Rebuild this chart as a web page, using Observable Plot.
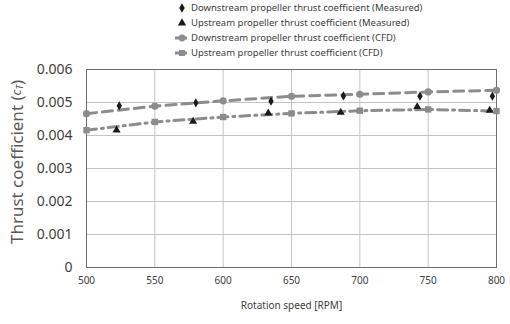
<!DOCTYPE html>
<html>
<head>
<meta charset="utf-8">
<script src="https://cdn.jsdelivr.net/npm/d3@7"></script>
<script src="https://cdn.jsdelivr.net/npm/@observablehq/plot@0.6"></script>
<style>
  body { margin: 0; background: #fff; font-family: "Noto Sans", sans-serif; }
  #wrap { position: relative; width: 510px; height: 324px; }
  #legend { position: absolute; left: 172px; top: 0; font-size: 9.5px; color: #404040; }
  #legend .row { display: flex; align-items: center; height: 15px; }
  #legend svg { width: 18px; height: 12px; margin-right: 1px; }
  #wrap > svg.chart { position: absolute; left: 0; top: 0; }
</style>
</head>
<body>
<div id="wrap"><div id="legend"></div></div>
<script>
// Measured thrust coefficients
const rpmMeasDown = [524, 580, 635, 688, 744, 797];
const ctMeasDown  = [0.00490, 0.00499, 0.00504, 0.00520, 0.00519, 0.00519];
const rpmMeasUp   = [522, 578, 633, 686, 742, 795];
const ctMeasUp    = [0.00416, 0.00443, 0.00468, 0.00470, 0.00487, 0.00476];

// CFD thrust coefficients
const rpmCFD    = [500, 550, 600, 650, 700, 750, 800];
const ctCFDDown = [0.00466, 0.00489, 0.00505, 0.00519, 0.00525, 0.00532, 0.00537];
const ctCFDUp   = [0.00416, 0.00441, 0.00456, 0.00467, 0.00475, 0.00479, 0.00474];

const xTicks = [500, 550, 600, 650, 700, 750, 800];
const yTicks = [0, 0.001, 0.002, 0.003, 0.004, 0.005, 0.006];

const seriesNames = [
  "Downstream propeller thrust coefficient (Measured)",
  "Upstream propeller thrust coefficient (Measured)",
  "Downstream propeller thrust coefficient (CFD)",
  "Upstream propeller thrust coefficient (CFD)"
];

const ink = "#1a1a1a";
const cfdGray = "#8c8c8c";
const dashDown = "10,6";
const dashUp = "10,5,2,5";

const measDown = rpmMeasDown.map((x, i) => ({x, y: ctMeasDown[i]}));
const measUp = rpmMeasUp.map((x, i) => ({x, y: ctMeasUp[i]}));
const cfdDown = rpmCFD.map((x, i) => ({x, y: ctCFDDown[i]}));
const cfdUp = rpmCFD.map((x, i) => ({x, y: ctCFDUp[i]}));

const chart = Plot.plot({
  width: 510,
  height: 324,
  marginLeft: 86,
  marginRight: 14,
  marginTop: 69,
  marginBottom: 57,
  style: { fontFamily: "'Noto Sans', sans-serif", background: "transparent" },
  x: { domain: [500, 800] },
  y: { domain: [0, 0.006] },
  marks: [
    Plot.gridX(xTicks, { stroke: "#c4c4c4", strokeOpacity: 1 }),
    Plot.gridY(yTicks, { stroke: "#c4c4c4", strokeOpacity: 1 }),
    Plot.frame({ stroke: "#6e6e6e" }),
    Plot.axisY(yTicks, {
      tickSize: 0, tickPadding: 14, fontSize: 14, color: "#404040",
      tickFormat: d => d === 0 ? "0" : d.toFixed(3), label: null
    }),
    Plot.axisX(xTicks, {
      tickSize: 0, tickPadding: 9, fontSize: 10, color: "#404040",
      label: "Rotation speed [RPM]", labelAnchor: "center", labelArrow: "none", labelOffset: 41
    }),
    Plot.line(cfdDown, { x: "x", y: "y", stroke: cfdGray, strokeWidth: 3, strokeDasharray: dashDown }),
    Plot.line(cfdUp, { x: "x", y: "y", stroke: cfdGray, strokeWidth: 3, strokeDasharray: dashUp }),
    Plot.dot(cfdDown, { x: "x", y: "y", symbol: "circle", r: 3.6, fill: cfdGray }),
    Plot.dot(cfdUp, { x: "x", y: "y", symbol: "square", r: 3.6, fill: cfdGray }),
    Plot.dot(measDown, { x: "x", y: "y", symbol: "diamond", r: 2.8, fill: ink }),
    Plot.dot(measUp, { x: "x", y: "y", symbol: "triangle", r: 3, fill: ink })
  ]
});
chart.classList.add("chart");
document.getElementById("wrap").appendChild(chart);

// Y axis title with italic subscripted coefficient symbol
const yTitle = d3.select(chart).append("text")
  .attr("transform", "translate(18,162) rotate(-90)")
  .attr("text-anchor", "middle")
  .attr("dominant-baseline", "middle")
  .attr("font-size", 17)
  .attr("fill", "#595959")
  .text("Thrust coefficient (");
yTitle.append("tspan").attr("font-style", "italic").attr("font-size", 13).text("c");
yTitle.append("tspan").attr("font-style", "italic").attr("font-size", 9).attr("dy", 3).text("T");
yTitle.append("tspan").attr("dy", -3).text(")");

// Legend
const legendSymbols = [
  {symbol: d3.symbolDiamond, size: 26, fill: ink, line: null},
  {symbol: d3.symbolTriangle, size: 30, fill: ink, line: null},
  {symbol: d3.symbolCircle, size: 36, fill: cfdGray, line: dashDown},
  {symbol: d3.symbolSquare, size: 36, fill: cfdGray, line: dashUp}
];
const legend = d3.select("#legend");
seriesNames.forEach((name, i) => {
  const s = legendSymbols[i];
  const row = legend.append("div").attr("class", "row");
  const sv = row.append("svg").attr("viewBox", "0 0 18 12");
  if (s.line) {
    sv.append("line").attr("x1", 3).attr("x2", 15).attr("y1", 6).attr("y2", 6)
      .attr("stroke", s.fill).attr("stroke-width", 3);
  }
  sv.append("path").attr("transform", "translate(10,6)")
    .attr("d", d3.symbol(s.symbol, s.size)()).attr("fill", s.fill);
  row.append("span").text(name);
});
</script>
</body>
</html>
